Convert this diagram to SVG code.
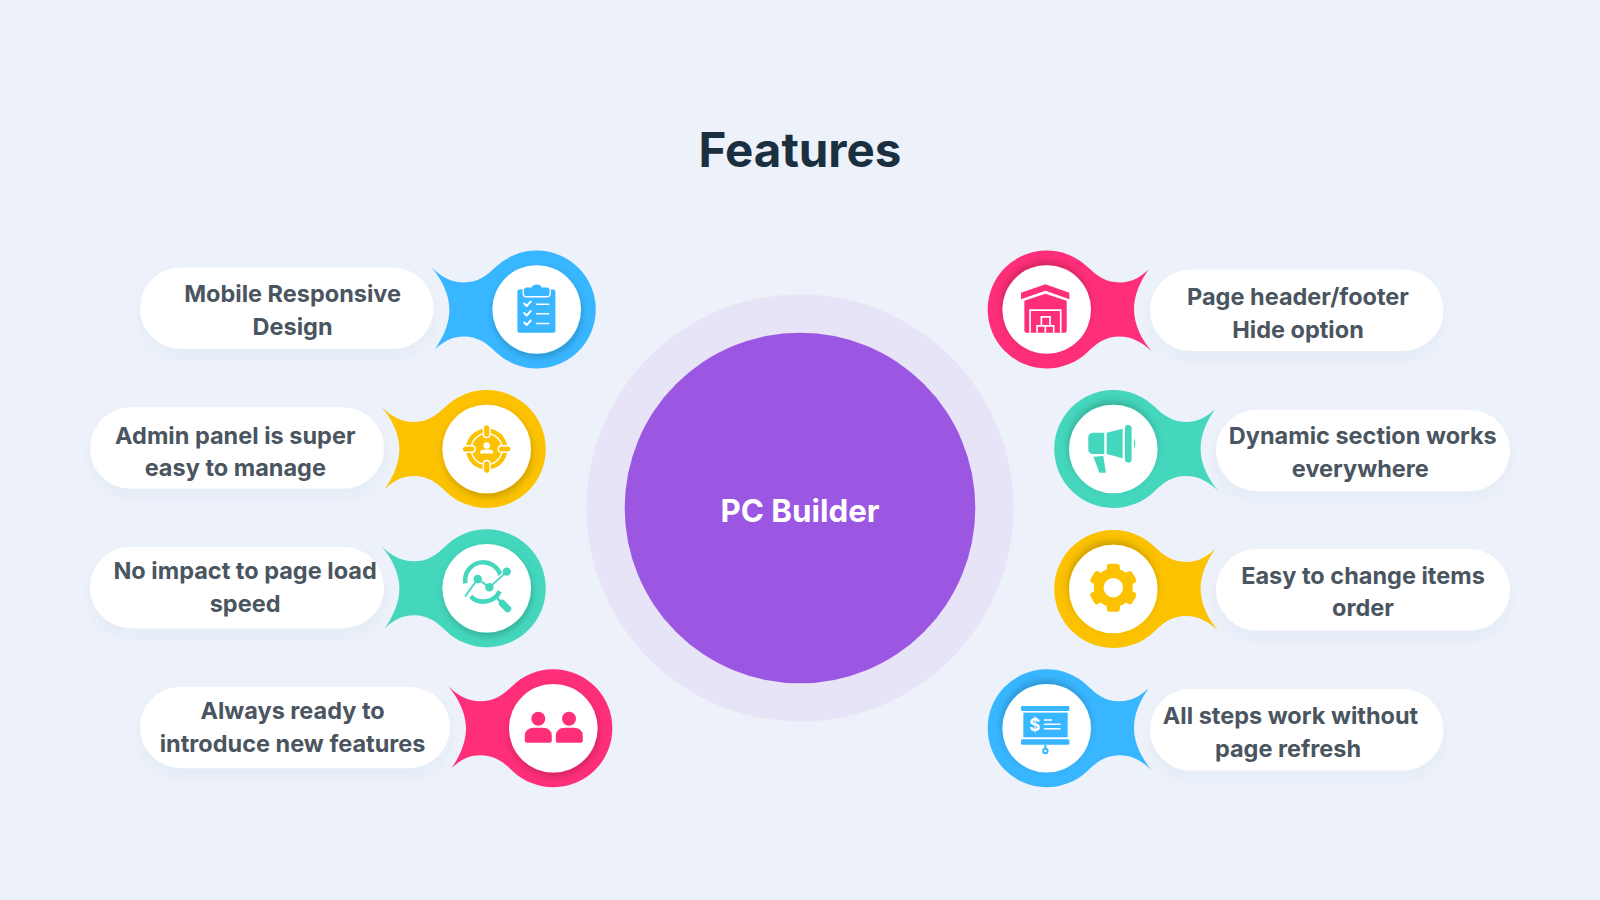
<svg xmlns="http://www.w3.org/2000/svg" width="1600" height="900" viewBox="0 0 1600 900">
<style>
text{font-family:Inter,"Liberation Sans",sans-serif}
.t{font-size:23.5px;font-weight:700;fill:#4a5560;text-anchor:middle}
.pill{fill:#fff;filter:url(#ps)}
.disc{fill:#fff}
.w{fill:none;stroke:#fff;stroke-linecap:round;stroke-linejoin:round}
.blue{fill:#38b6ff}.pink{fill:#ff2e78}.yel{fill:#fcc200}.grn{fill:#44d7bd}
</style>
<defs>
<path id="blob" d="M-105-42C-96-33-85-27-73-27C-58-27-50-34-41-42.4A59 59 0 1 1-41 42.4C-50 34-58 27-73 27C-85 27-93 32-101.7 39.7C-93 27-87.3 14-87.3 0C-87.3-15-95-30-105-42Z"/>
<filter id="ps" x="-10%" y="-20%" width="120%" height="160%"><feDropShadow dx="0" dy="8" stdDeviation="6" flood-color="#3c5a8c" flood-opacity=".035"/></filter>
<filter id="sl" x="-30%" y="-30%" width="160%" height="160%"><feDropShadow dx="1" dy="3.500" stdDeviation="3.500" flood-color="#000" flood-opacity=".2"/></filter>
<filter id="sr" x="-30%" y="-30%" width="160%" height="160%"><feDropShadow dx="-1" dy="-3.500" stdDeviation="3.500" flood-color="#000" flood-opacity=".2"/></filter>
</defs>
<rect width="1600" height="900" fill="#ecf1fa"/>
<text id="title" x="800" y="166.7" font-size="47.500" font-weight="700" fill="#1a2f3f" text-anchor="middle">Features</text>
<g id="center">
<circle cx="800" cy="508" r="213.5" fill="#e6e4f6"/>
<circle cx="800" cy="508" r="175.3" fill="#9b57e2"/>
<text x="800" y="521.7" font-size="31.300" font-weight="700" fill="#fff" text-anchor="middle">PC Builder</text>
</g>

<g id="node-mobile">
<rect class="pill" x="140" y="267.5" width="293.5" height="81.5" rx="40.75"/>
<text class="t" x="292.6" y="301.7">Mobile Responsive</text><text class="t" x="292.6" y="335.300">Design</text>
<use href="#blob" class="blue" transform="translate(536.7 309.5)"/>
<circle class="disc" cx="536.7" cy="309.5" r="44.3" filter="url(#sl)"/>
<g transform="translate(536.7 309.5)">
<rect class="blue" x="-19.3" y="-20" width="38" height="43.3" rx="2"/>
<path class="blue" d="M-12.500-14V-20Q-12.500-22-10.500-22H-5Q-4-25 0-25Q4-25 5-22H10.500Q12.500-22 12.500-20V-14Z"/>
<path class="w" stroke-width="1.400" d="M-13.500-19V-16Q-13.500-12.700-10-12.700H10Q13.500-12.700 13.500-16V-19"/>
<path class="w" stroke-width="1.900" d="M-12.500-6L-10-3.500L-6-8M-12.500 3.500L-10 6L-6 1.500M-12.500 13L-10 15.500L-6 11"/>
<path class="w" stroke-width="1.500" d="M0-5.300H12M0 4.300H12M0 14H12"/>
</g></g>

<g id="node-admin">
<rect class="pill" x="90" y="407.3" width="294" height="81.5" rx="40.75"/>
<text class="t" x="235.3" y="444.3">Admin panel is super</text><text class="t" x="235.3" y="476">easy to manage</text>
<use href="#blob" class="yel" transform="translate(486.7 449)"/>
<circle class="disc" cx="486.7" cy="449" r="44.3" filter="url(#sl)"/>
<g transform="translate(486.7 449)">
<circle class="yel" r="20.700"/><circle r="15.500" fill="none" stroke="#fff" stroke-width="1.500"/>
<g class="yel" stroke="#fff" stroke-width="1.400">
<rect x="-3.300" y="-24.500" width="6.600" height="13" rx="3.300"/><rect x="-3.300" y="11.500" width="6.600" height="13" rx="3.300"/>
<rect x="-24.500" y="-3.300" width="13" height="6.600" rx="3.300"/><rect x="11.500" y="-3.300" width="13" height="6.600" rx="3.300"/>
</g>
<circle cx="0" cy="-3.500" r="3.300" fill="#fff"/><path fill="#fff" d="M-6.500 4.500V3Q-6.500 .5-3 .5H3Q6.500 .5 6.500 3V4.500Z"/>
</g></g>

<g id="node-speed">
<rect class="pill" x="90" y="546.7" width="294" height="81.5" rx="40.75"/>
<text class="t" x="245.1" y="578.7">No impact to page load</text><text class="t" x="245.1" y="612.300">speed</text>
<use href="#blob" class="grn" transform="translate(486.7 588.3)"/>
<circle class="disc" cx="486.7" cy="588.3" r="44.3" filter="url(#sl)"/>
<g transform="translate(486.7 588.3)">
<path fill="none" stroke="#44d7bd" stroke-width="4.500" d="M-21.300-5A18 18 0 0 1 14-12M13 3A18 18 0 0 1-16 8"/>
<path fill="none" stroke="#44d7bd" stroke-width="2.500" d="M10 9L15 15"/>
<path fill="none" stroke="#44d7bd" stroke-width="7" stroke-linecap="round" d="M15.500 15L21 20.500"/>
<path fill="none" stroke="#fff" stroke-width="4.500" d="M-21.700 8.300L-9-9.300L2.700-1L20-16.700"/>
<path fill="none" stroke="#44d7bd" stroke-width="1.800" d="M-21.700 8.300L-9-9.300L2.700-1L20-16.700"/>
<circle class="grn" cx="-9" cy="-9.300" r="4.200"/><circle class="grn" cx="2.700" cy="-1" r="4.200"/><circle class="grn" cx="20" cy="-16.700" r="4.200"/>
</g></g>

<g id="node-always">
<rect class="pill" x="140" y="686.7" width="310" height="81.5" rx="40.75"/>
<text class="t" x="292.6" y="718.7">Always ready to</text><text class="t" x="292.6" y="752.300">introduce new features</text>
<use href="#blob" class="pink" transform="translate(553.3 728.3)"/>
<circle class="disc" cx="553.3" cy="728.3" r="44.3" filter="url(#sl)"/>
<g class="pink" transform="translate(553.3 728.3)">
<circle cx="-15" cy="-9.500" r="7"/><circle cx="15.700" cy="-9.500" r="7"/>
<path d="M-28.500 12.500Q-28.500 14.500-26.500 14.500H-3.500Q-1.500 14.500-1.500 12.500V8Q-1.500-.500-11-.500H-19Q-28.500-.500-28.500 8Z"/>
<path d="M2.500 12.500Q2.500 14.500 4.500 14.500H27.500Q29.500 14.500 29.500 12.500V8Q29.500-.500 20-.500H12Q2.500-.500 2.500 8Z"/>
</g></g>

<g id="node-header">
<rect class="pill" x="1150" y="269.500" width="293.500" height="81.500" rx="40.75"/>
<text class="t" x="1298" y="304.700">Page header/footer</text><text class="t" x="1298" y="337.500">Hide option</text>
<use href="#blob" class="pink" transform="translate(1046.700 309.500) rotate(180)"/>
<circle class="disc" cx="1046.700" cy="309.500" r="44.300" filter="url(#sr)"/>
<g class="pink" transform="translate(1046.700 309.500) scale(.3333) translate(-230 -238)">
<path d="M153 188L226 162L298 188V207L226 182L153 207Z"/>
<path d="M163 212L226 191L290 212V302Q290 308 284 308H169Q163 308 163 302Z"/>
<path fill="none" stroke="#fff" stroke-width="5" d="M180 308V240H272V308"/>
<path fill="none" stroke="#fff" stroke-width="5" d="M214 285V260H240V285M201 308V287H226V308M226 287H251V308"/>
</g></g>

<g id="node-dynamic">
<rect class="pill" x="1216" y="409.700" width="294" height="81.500" rx="40.75"/>
<text class="t" x="1362.800" y="443.700">Dynamic section works</text><text class="t" x="1360.300" y="476.700">everywhere</text>
<use href="#blob" class="grn" transform="translate(1113.300 449) rotate(180)"/>
<circle class="disc" cx="1113.300" cy="449" r="44.300" filter="url(#sr)"/>
<g class="grn" transform="translate(1113.300 449) scale(.3333) translate(-220 -207)">
<path d="M193 158V222H160Q145 222 145 207V172Q145 158 160 158Z"/>
<path d="M200 158L248 146V235L200 222Z"/>
<rect x="255" y="135" width="20" height="113" rx="10"/>
<path d="M282 175Q290 191 282 208Z"/>
<path d="M160 230L190 228L198 278H178Q172 260 160 230Z"/>
</g></g>

<g id="node-order">
<rect class="pill" x="1216" y="549" width="294" height="81.500" rx="40.75"/>
<text class="t" x="1363" y="584">Easy to change items</text><text class="t" x="1363" y="616">order</text>
<use href="#blob" class="yel" transform="translate(1113.300 589) rotate(180)"/>
<circle class="disc" cx="1113.300" cy="589" r="44.300" filter="url(#sr)"/>
<g transform="translate(1113.300 587.700)">
<circle class="yel" r="19.500"/>
<g class="yel">
<rect x="-6.500" y="-24" width="13" height="14" rx="3"/><rect x="-6.500" y="10" width="13" height="14" rx="3"/>
<rect x="-6.500" y="-24" width="13" height="14" rx="3" transform="rotate(60)"/><rect x="-6.500" y="-24" width="13" height="14" rx="3" transform="rotate(120)"/>
<rect x="-6.500" y="-24" width="13" height="14" rx="3" transform="rotate(240)"/><rect x="-6.500" y="-24" width="13" height="14" rx="3" transform="rotate(300)"/>
</g>
<circle r="9.700" fill="#fff"/>
</g></g>

<g id="node-refresh">
<rect class="pill" x="1150" y="689" width="293.500" height="81.500" rx="40.75"/>
<text class="t" x="1290.500" y="724">All steps work without</text><text class="t" x="1288" y="756.700">page refresh</text>
<use href="#blob" class="blue" transform="translate(1046.700 728.300) rotate(180)"/>
<circle class="disc" cx="1046.700" cy="728.300" r="44.300" filter="url(#sr)"/>
<g transform="translate(1046.700 728.300) scale(.3333) translate(-230 -205)">
<g class="blue">
<rect x="153" y="138" width="145" height="15" rx="4"/><rect x="160" y="158" width="133" height="74"/><rect x="153" y="238" width="145" height="16" rx="4"/><rect x="223" y="254" width="6" height="14"/>
</g>
<circle cx="226" cy="273" r="6.500" fill="#fff" stroke="#38b6ff" stroke-width="6"/>
<text x="194" y="213" font-size="51" font-weight="700" fill="#fff" text-anchor="middle">$</text>
<path class="w" stroke-width="4.500" stroke-linecap="butt" d="M223 180H245M223 193H270M223 206H270"/>
</g></g>
</svg>
